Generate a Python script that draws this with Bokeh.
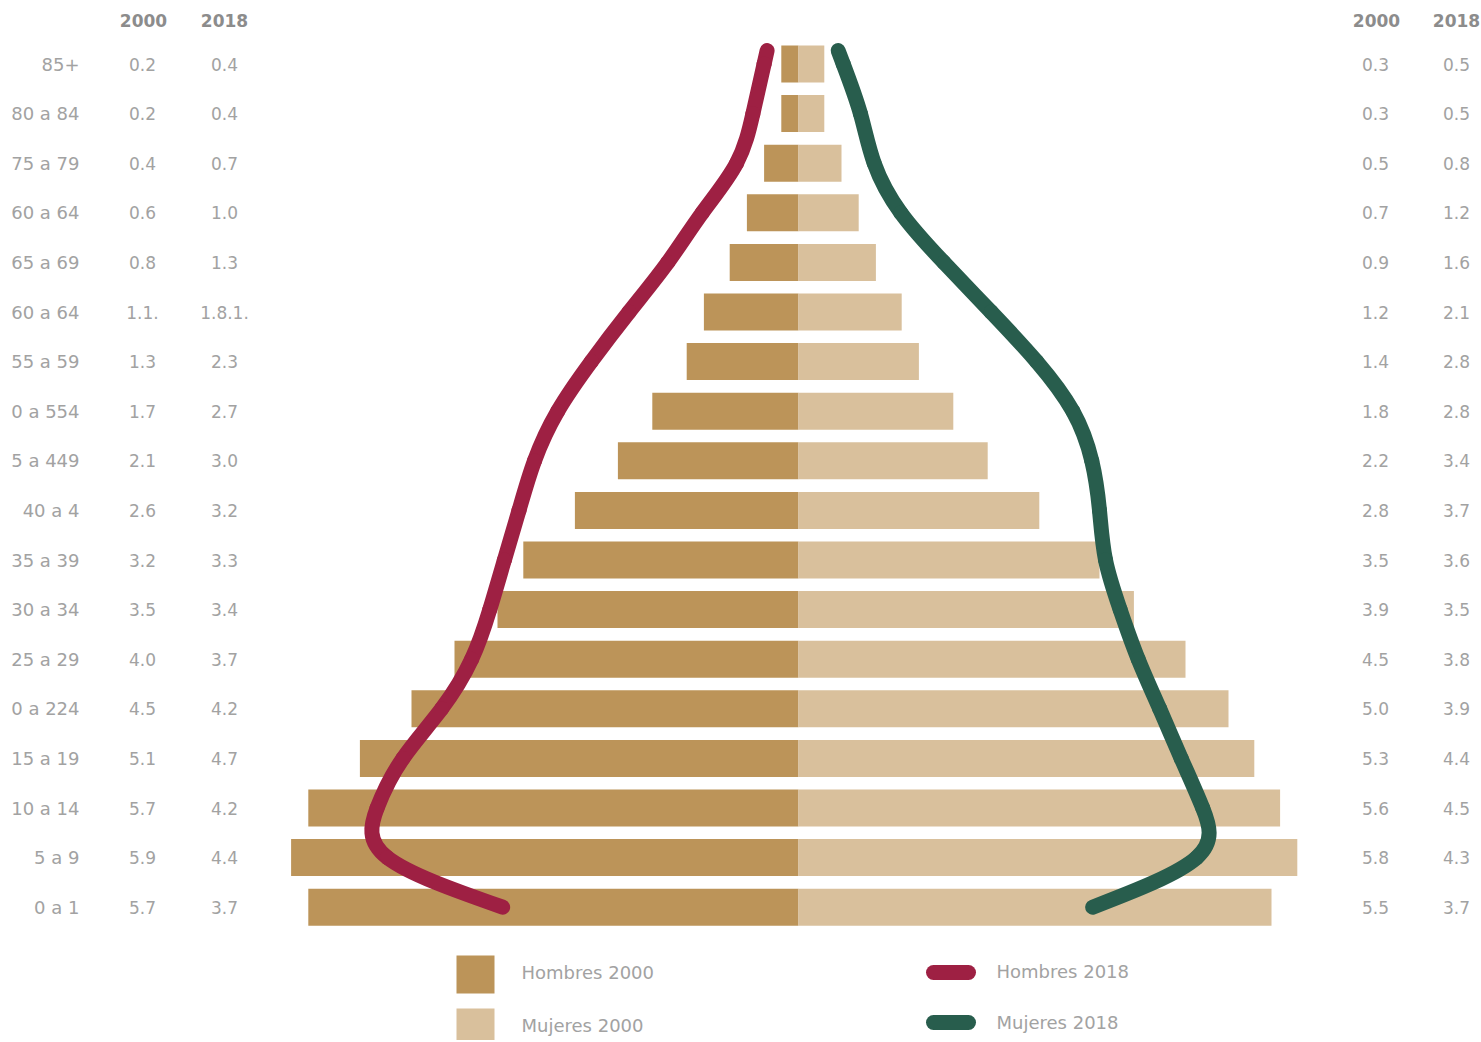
import numpy as np
from bokeh.plotting import figure
from bokeh.models import Range1d
from bokeh.core.properties import value
from bokeh.embed import file_html
from bokeh.resources import INLINE

# ---------------- data ----------------
age_groups = ["85+", "80 a 84", "75 a 79", "60 a 64", "65 a 69", "60 a 64", "55 a 59",
              "0 a 554", "5 a 449", "40 a 4", "35 a 39", "30 a 34", "25 a 29",
              "0 a 224", "15 a 19", "10 a 14", "5 a 9", "0 a 1"]

hombres_2000 = [0.2, 0.2, 0.4, 0.6, 0.8, 1.1, 1.3, 1.7, 2.1, 2.6, 3.2, 3.5, 4.0, 4.5, 5.1, 5.7, 5.9, 5.7]
mujeres_2000 = [0.3, 0.3, 0.5, 0.7, 0.9, 1.2, 1.4, 1.8, 2.2, 2.8, 3.5, 3.9, 4.5, 5.0, 5.3, 5.6, 5.8, 5.5]

# 2018 curves as drawn
hombres_2018_curve = [0.40, 0.53, 0.72, 1.12, 1.52, 1.97, 2.41, 2.80, 3.07, 3.25, 3.42, 3.59, 3.80, 4.15, 4.60, 4.90, 4.78, 3.44]
mujeres_2018_curve = [0.52, 0.72, 0.88, 1.19, 1.69, 2.24, 2.77, 3.19, 3.41, 3.50, 3.57, 3.74, 3.95, 4.20, 4.45, 4.70, 4.63, 3.42]

# table labels (as printed)
hombres_2000_lbl = ["0.2", "0.2", "0.4", "0.6", "0.8", "1.1.", "1.3", "1.7", "2.1", "2.6", "3.2", "3.5", "4.0", "4.5", "5.1", "5.7", "5.9", "5.7"]
hombres_2018_lbl = ["0.4", "0.4", "0.7", "1.0", "1.3", "1.8.1.", "2.3", "2.7", "3.0", "3.2", "3.3", "3.4", "3.7", "4.2", "4.7", "4.2", "4.4", "3.7"]
mujeres_2000_lbl = ["0.3", "0.3", "0.5", "0.7", "0.9", "1.2", "1.4", "1.8", "2.2", "2.8", "3.5", "3.9", "4.5", "5.0", "5.3", "5.6", "5.8", "5.5"]
mujeres_2018_lbl = ["0.5", "0.5", "0.8", "1.2", "1.6", "2.1", "2.8", "2.8", "3.4", "3.7", "3.6", "3.5", "3.8", "3.9", "4.4", "4.5", "4.3", "3.7"]

column_headers = ["2000", "2018"]
legend_labels = ["Hombres 2000", "Mujeres 2000", "Hombres 2018", "Mujeres 2018"]

# ---------------- styles ----------------
C_MEN00 = "#BC9459"
C_WOM00 = "#D9C09C"
C_MEN18 = "#9E2043"
C_WOM18 = "#285D4D"
C_TEXT = "#a2a2a2"
C_HEAD = "#8c8c8c"
FONT = value("DejaVu Sans")

W, H = 1480, 1040
PX_X = 86.0      # pixels per percentage point
PX_Y = 49.6      # pixels per age row
CX = 798.0       # screen x of the centre line
CY0 = 63.5       # screen y of first row
TOP_EXT = 0.27   # curves start a little above the top bar


def sx(px):
    return (px - CX) / PX_X


def sy(py):
    return (py - CY0) / PX_Y


p = figure(width=W, height=H, output_backend="svg", toolbar_location=None,
           x_axis_type=None, y_axis_type=None, min_border=0,
           x_range=Range1d(sx(0), sx(W)),
           y_range=Range1d(sy(H), sy(0)))
p.grid.visible = False
p.outline_line_color = None
p.background_fill_color = "white"
p.border_fill_color = "white"

rows = np.arange(len(age_groups))

# bars
bar_h = 37 / PX_Y
p.hbar(y=rows, left=-np.array(hombres_2000), right=0, height=bar_h,
       fill_color=C_MEN00, line_color=None)
p.hbar(y=rows, left=0, right=np.array(mujeres_2000), height=bar_h,
       fill_color=C_WOM00, line_color=None)


# smooth curves: natural cubic spline x(row) through the values -> cubic Bezier segments
def spline_bezier(xs, ys):
    xs = np.asarray(xs, dtype=float)
    ys = np.asarray(ys, dtype=float)
    n = len(xs)
    A = np.zeros((n, n))
    b = np.zeros(n)
    A[0, 0] = 1.0
    A[-1, -1] = 1.0
    for i in range(1, n - 1):
        A[i, i - 1] = 1.0
        A[i, i] = 4.0
        A[i, i + 1] = 1.0
        b[i] = 6.0 * (xs[i + 1] - 2 * xs[i] + xs[i - 1])
    M = np.linalg.solve(A, b)
    d = np.zeros(n)
    for i in range(n - 1):
        d[i] = (xs[i + 1] - xs[i]) - (2 * M[i] + M[i + 1]) / 6.0
    d[-1] = (xs[-1] - xs[-2]) + (M[-2] + 2 * M[-1]) / 6.0
    out = dict(x0=list(xs[:-1]), y0=list(ys[:-1]), x1=list(xs[1:]), y1=list(ys[1:]),
               cx0=list(xs[:-1] + d[:-1] / 3.0), cy0=list(ys[:-1] + (ys[1:] - ys[:-1]) / 3.0),
               cx1=list(xs[1:] - d[1:] / 3.0), cy1=list(ys[1:] - (ys[1:] - ys[:-1]) / 3.0))
    # short straight lead-in above the first bar, following the start tangent
    x_top = xs[0] - d[0] * TOP_EXT
    out["x0"].insert(0, x_top); out["y0"].insert(0, ys[0] - TOP_EXT)
    out["x1"].insert(0, xs[0]); out["y1"].insert(0, ys[0])
    out["cx0"].insert(0, x_top); out["cy0"].insert(0, ys[0] - TOP_EXT)
    out["cx1"].insert(0, xs[0]); out["cy1"].insert(0, ys[0])
    return out


men_seg = spline_bezier(-np.array(hombres_2018_curve), rows)
wom_seg = spline_bezier(np.array(mujeres_2018_curve), rows)
p.bezier(**men_seg, line_color=C_MEN18, line_width=15, line_cap="round")
p.bezier(**wom_seg, line_color=C_WOM18, line_width=15, line_cap="round")

# table text
p.text(x=[sx(79)] * len(rows), y=rows, text=age_groups, text_font=FONT,
       text_font_size="18px", text_color=C_TEXT, text_align="right", text_baseline="middle")
for lbls, px in [(hombres_2000_lbl, 142), (hombres_2018_lbl, 224),
                 (mujeres_2000_lbl, 1375), (mujeres_2018_lbl, 1456)]:
    p.text(x=[sx(px)] * len(rows), y=rows, text=lbls, text_font=FONT,
           text_font_size="17px", text_color=C_TEXT, text_align="center", text_baseline="middle")

p.text(x=[sx(143), sx(224), sx(1376), sx(1456)], y=[sy(20)] * 4,
       text=column_headers * 2, text_font=FONT, text_font_size="17px",
       text_font_style="bold", text_color=C_HEAD, text_align="center", text_baseline="middle")

# legend
p.quad(left=[sx(456), sx(456)], right=[sx(494), sx(494)],
       top=[sy(955), sy(1008)], bottom=[sy(993), sy(1046)],
       fill_color=[C_MEN00, C_WOM00], line_color=None)
p.segment(x0=[sx(933), sx(933)], x1=[sx(968), sx(968)], y0=[sy(972), sy(1022)], y1=[sy(972), sy(1022)],
          line_color=[C_MEN18, C_WOM18], line_width=15, line_cap="round")
p.text(x=[sx(521), sx(521), sx(996), sx(996)], y=[sy(972), sy(1025), sy(971), sy(1022)],
       text=legend_labels, text_font=FONT, text_font_size="18px", text_color=C_TEXT,
       text_align="left", text_baseline="middle")

open("out.html", "w").write(file_html(p, INLINE, title="Pirámide de población"))
